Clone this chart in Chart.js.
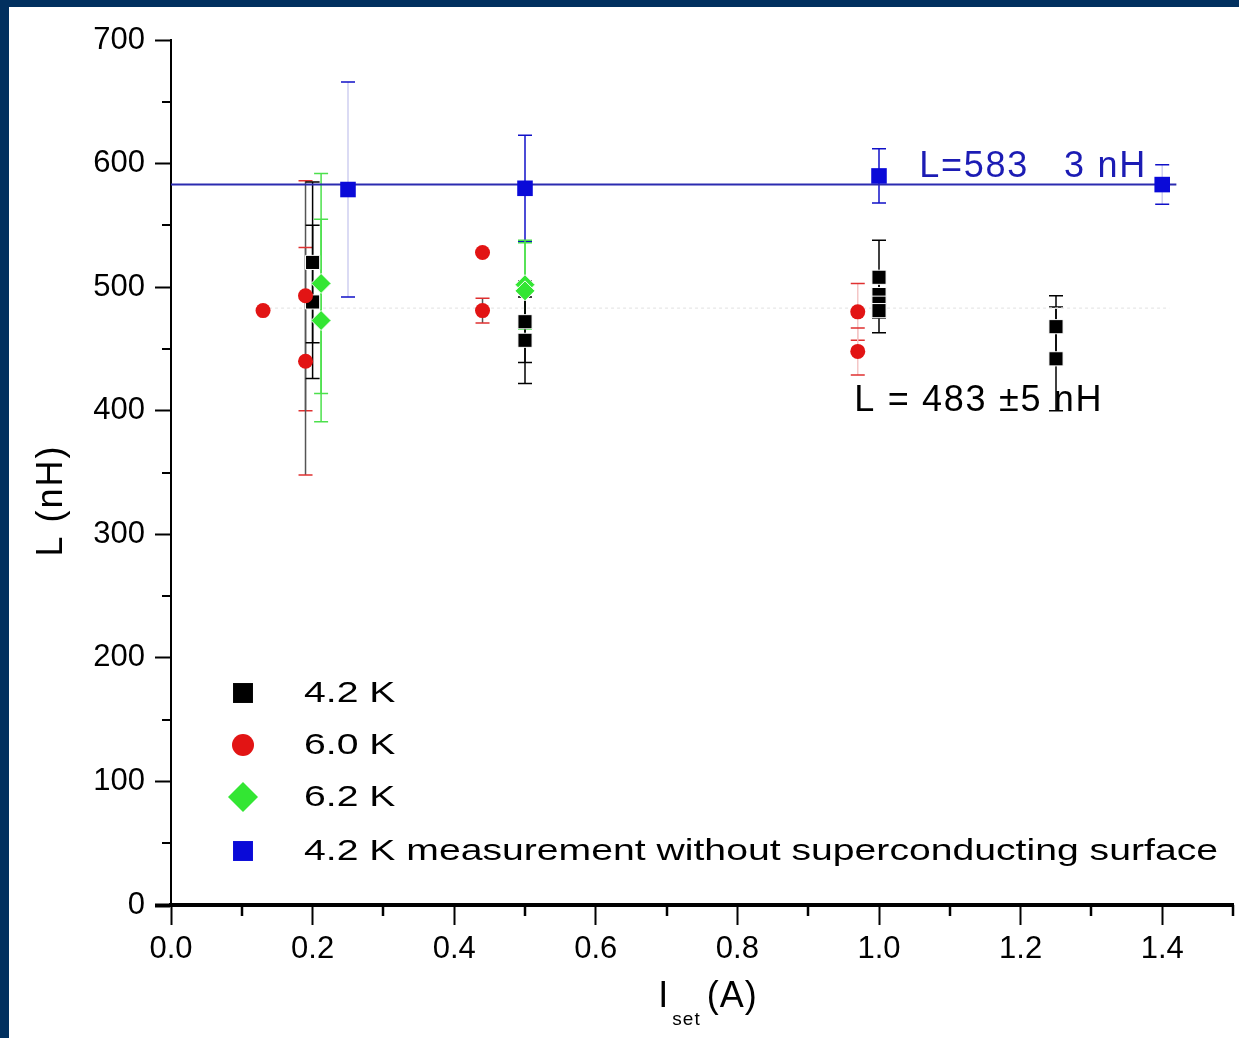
<!DOCTYPE html>
<html>
<head>
<meta charset="utf-8">
<script src="https://cdn.jsdelivr.net/npm/chart.js@4.4.1/dist/chart.umd.min.js"></script>
<style>
  html, body { margin: 0; padding: 0; background: #fff; overflow: hidden; }
  #wrap { position: relative; width: 1239px; height: 1038px; }
</style>
</head>
<body>
<div id="wrap"><canvas id="c"></canvas></div>
<script>
// Axis ticks
const xTickValues = [0.0, 0.2, 0.4, 0.6, 0.8, 1.0, 1.2, 1.4];
const xMinorTicks = [0.1, 0.3, 0.5, 0.7, 0.9, 1.1, 1.3, 1.5];
const yTickValues = [0, 100, 200, 300, 400, 500, 600, 700];
const yMinorTicks = [50, 150, 250, 350, 450, 550, 650];

// Series labels
const seriesLabels = ['4.2 K', '6.0 K', '6.2 K', '4.2 K measurement without superconducting surface'];

// 4.2 K
const current42 = [0.2, 0.2, 0.5, 0.5, 1.0, 1.0, 1.0, 1.0, 1.25, 1.25];
const L42 = [520, 488, 472, 457, 508, 494, 487, 481, 468, 442];
const err42 = [65, 62, 33, 35, 30, 12, 12, 18, 25, 42];

// 6.0 K
const current60 = [0.13, 0.19, 0.19, 0.44, 0.44, 0.97, 0.97];
const L60 = [481, 493, 440, 528, 481, 480, 448];
const err60 = [0, 93, 92, 0, 10, 23, 19];

// 6.2 K
const current62 = [0.212, 0.212, 0.5, 0.5];
const L62 = [503, 473, 502, 497];
const err62 = [89, 82, 36, 39];

// 4.2 K without superconducting surface
const currentRef = [0.25, 0.5, 1.0, 1.4];
const LRef = [579, 580, 590, 583];
const errRef = [87, 43, 22, 16];

// Mean inductances
const fitHigh = 583;
const fitLow = 483;
const fitHighRange = [0.0, 1.42];
const fitLowRange = [0.13, 1.41];
const fitHighText = 'L=583   3 nH';
const fitLowText = 'L = 483 \u00b15 nH';

const ARIAL = 'Arial, "Liberation Sans", sans-serif';
const NAVY = '#01305f';

const toPoints = (xs, ys) => xs.map((x, i) => ({ x: x, y: ys[i] }));

const decor = {
  id: 'decor',
  beforeDraw(chart) {
    const { ctx, width, height } = chart;
    ctx.save();
    ctx.fillStyle = '#fff';
    ctx.fillRect(0, 0, width, height);
    ctx.fillStyle = NAVY;
    ctx.fillRect(0, 0, width, 7);
    ctx.fillRect(0, 0, 9, height);
    ctx.restore();
  },
  beforeDatasetsDraw(chart) {
    const { ctx } = chart;
    const ys = chart.scales.y;
    ctx.save();
    ctx.lineWidth = 1.5;
    chart.data.datasets.forEach((ds, di) => {
      if (!ds.errors) return;
      const meta = chart.getDatasetMeta(di);
      ds.data.forEach((p, i) => {
        const e = ds.errors[i];
        if (!e) return;
        const px = meta.data[i].x;
        const top = ys.getPixelForValue(p.y + e);
        const bot = ys.getPixelForValue(p.y - e);
        ctx.strokeStyle = ds.errLine(i);
        ctx.beginPath();
        ctx.moveTo(px, top); ctx.lineTo(px, bot);
        ctx.stroke();
        ctx.strokeStyle = ds.errCap;
        ctx.beginPath();
        ctx.moveTo(px - 7, top); ctx.lineTo(px + 7, top);
        ctx.moveTo(px - 7, bot); ctx.lineTo(px + 7, bot);
        ctx.stroke();
      });
    });
    ctx.restore();
  },
  afterDraw(chart) {
    const { ctx, chartArea } = chart;
    const xs = chart.scales.x, ys = chart.scales.y;
    ctx.save();

    // minor ticks
    ctx.strokeStyle = '#000';
    ctx.lineWidth = 2.5;
    xMinorTicks.forEach(v => {
      const px = Math.round(xs.getPixelForValue(v));
      ctx.beginPath(); ctx.moveTo(px, chartArea.bottom); ctx.lineTo(px, chartArea.bottom + 11); ctx.stroke();
    });
    ctx.lineWidth = 2;
    yMinorTicks.forEach(v => {
      const py = Math.round(ys.getPixelForValue(v));
      ctx.beginPath(); ctx.moveTo(chartArea.left, py); ctx.lineTo(chartArea.left - 9, py); ctx.stroke();
    });

    // value annotations
    ctx.font = '36px ' + ARIAL;
    ctx.textBaseline = 'alphabetic';
    ctx.textAlign = 'left';
    ctx.letterSpacing = '1.7px';
    ctx.fillStyle = '#1c1cb4';
    ctx.fillText(fitHighText, xs.getPixelForValue(1.057), ys.getPixelForValue(589));
    ctx.fillStyle = '#000';
    ctx.fillText(fitLowText, xs.getPixelForValue(0.965), ys.getPixelForValue(400));

    // y title
    ctx.save();
    ctx.translate(52, (chartArea.top + chartArea.bottom) / 2 + 28);
    ctx.rotate(-Math.PI / 2);
    ctx.textAlign = 'center';
    ctx.textBaseline = 'middle';
    ctx.font = '36px ' + ARIAL;
    ctx.letterSpacing = '2px';
    ctx.fillText('L (nH)', 0, 0);
    ctx.restore();

    // x title with subscript
    ctx.letterSpacing = '1px';
    ctx.font = '36px ' + ARIAL;
    const wI = ctx.measureText('I').width;
    const wA = ctx.measureText('(A)').width;
    ctx.font = '19px ' + ARIAL;
    const wS = ctx.measureText('set').width;
    const total = wI + 3 + wS + 6 + wA;
    const x0 = (chartArea.left + chartArea.right) / 2 + 6 - total / 2;
    const base = 1007;
    ctx.font = '36px ' + ARIAL;
    ctx.fillText('I', x0, base);
    ctx.font = '19px ' + ARIAL;
    ctx.fillText('set', x0 + wI + 3, base + 18);
    ctx.font = '36px ' + ARIAL;
    ctx.fillText('(A)', x0 + wI + 3 + wS + 6, base);

    // legend
    const legendMarks = [
      { style: 'rect', r: 14.1, color: '#000' },
      { style: 'circle', r: 11, color: '#e21414' },
      { style: 'rectRot', r: 15, color: '#33e633' },
      { style: 'rect', r: 14.1, color: '#0a0ad8' }
    ];
    const rowsY = [693, 745, 797, 851];
    ctx.font = '30px ' + ARIAL;
    ctx.letterSpacing = '0px';
    ctx.textBaseline = 'middle';
    seriesLabels.forEach((lab, i) => {
      const m = legendMarks[i];
      ctx.fillStyle = m.color;
      Chart.helpers.drawPoint(ctx, { pointStyle: m.style, radius: m.r, rotation: 0, borderWidth: 0 }, 243, rowsY[i]);
      ctx.fillStyle = '#000';
      ctx.save();
      ctx.translate(304, rowsY[i] + 1);
      ctx.scale(1.305, 1);
      ctx.fillText(lab, 0, 0);
      ctx.restore();
    });

    ctx.restore();
  }
};

new Chart(document.getElementById('c'), {
  type: 'scatter',
  data: {
    datasets: [
      { label: seriesLabels[3], data: toPoints(currentRef, LRef), errors: errRef,
        errLine: i => (i === 0 || i === 3 ? '#cfcff0' : '#1010c8'), errCap: '#1010c8',
        pointStyle: 'rect', pointRadius: 11, backgroundColor: '#0a0ad8', borderWidth: 0 },
      { label: seriesLabels[2], data: toPoints(current62, L62), errors: err62,
        errLine: () => '#4ce04c', errCap: '#4ce04c',
        pointStyle: 'rectRot', pointRadius: 10, backgroundColor: '#33e633', borderColor: '#fff', borderWidth: 1 },
      { label: seriesLabels[1], data: toPoints(current60, L60), errors: err60,
        errLine: i => (i >= 5 ? '#f4c6c6' : '#555'), errCap: '#e03030',
        pointStyle: 'circle', pointRadius: 7.5, backgroundColor: '#e21414', borderWidth: 0 },
      { label: seriesLabels[0], data: toPoints(current42, L42), errors: err42,
        errLine: () => '#000', errCap: '#000',
        pointStyle: 'rect', pointRadius: 10, backgroundColor: '#000', borderColor: '#fff', borderWidth: 1 },
      { label: 'mean 583', data: toPoints(fitHighRange, [fitHigh, fitHigh]), showLine: true,
        pointRadius: 0, borderColor: '#2b2bb0', borderWidth: 2 },
      { label: 'mean 483', data: toPoints(fitLowRange, [fitLow, fitLow]), showLine: true,
        pointRadius: 0, borderColor: '#ececec', borderWidth: 1.5, borderDash: [3, 3] }
    ]
  },
  options: {
    responsive: true,
    maintainAspectRatio: false,
    animation: false,
    events: [],
    layout: { autoPadding: false, padding: { top: 40, right: 6, bottom: 0, left: 0 } },
    plugins: { legend: { display: false }, tooltip: { enabled: false } },
    scales: {
      x: {
        type: 'linear', min: 0, max: 1.5,
        afterBuildTicks: s => { s.ticks = xTickValues.map(v => ({ value: v })); },
        afterFit: s => { s.height = 133; s.paddingLeft = 0; s.paddingRight = 0; },
        grid: { drawOnChartArea: false, tickLength: 20, tickWidth: 2, tickColor: '#000', color: '#000' },
        border: { width: 4, color: '#000' },
        ticks: { font: { family: ARIAL, size: 31 }, color: '#000', padding: 6, maxRotation: 0,
                 callback: v => Number(v).toFixed(1) }
      },
      y: {
        type: 'linear', min: 0, max: 700,
        afterBuildTicks: s => { s.ticks = yTickValues.map(v => ({ value: v })); },
        afterFit: s => { s.width = 171; s.paddingTop = 0; s.paddingBottom = 0; },
        grid: { drawOnChartArea: false, tickLength: 16, tickWidth: c => (c.index === 0 ? 4 : 2), tickColor: '#000', color: '#000' },
        border: { width: 2, color: '#000' },
        ticks: { font: { family: ARIAL, size: 31 }, color: '#000', padding: 10,
                 callback: v => String(v) }
      }
    }
  },
  plugins: [decor]
});
</script>
</body>
</html>
